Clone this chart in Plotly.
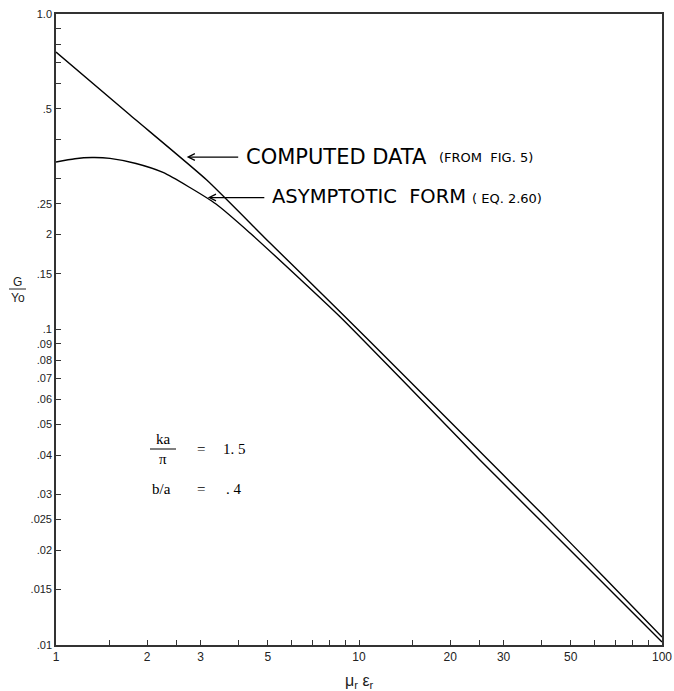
import numpy as np
import plotly.graph_objects as go

# Conductance G/Yo versus mu_r * eps_r (log-log)
computed_x = [1.0, 1.755, 3.144, 5.086, 8.657, 13.66, 22.67, 39.57, 64.86, 100.0]
computed_y = [0.758, 0.4785, 0.2978, 0.188, 0.1139, 0.0736, 0.04518, 0.02643, 0.01627, 0.0106]

asymptotic_x = [1.0, 1.155, 1.315, 1.507, 1.837, 2.255, 2.748, 3.374, 4.368, 6.387,
                8.657, 13.66, 25.07, 64.86, 100.0]
asymptotic_y = [0.3397, 0.3478, 0.3508, 0.3488, 0.3358, 0.3146, 0.2829, 0.2498, 0.2022, 0.1446,
                0.1098, 0.0703, 0.03859, 0.01550, 0.01022]

x_ticks = [1, 1.5, 2, 2.5, 3, 4, 5, 6, 7, 8, 9, 10, 15, 20, 25, 30, 40, 50, 60, 70, 80, 90, 100]
x_tick_text = ["1", "", "2", "", "3", "", "5", "", "", "", "", "10", "", "20", "", "30", "",
               "50", "", "", "", "", "100"]

y_ticks = [1.0, 0.9, 0.8, 0.7, 0.6, 0.5, 0.4, 0.3, 0.25, 0.2, 0.15, 0.1, 0.09, 0.08, 0.07,
           0.06, 0.05, 0.04, 0.03, 0.025, 0.02, 0.015, 0.01]
y_tick_text = ["1.0", "", "", "", "", ".5", "", "", ".25", "2", ".15", ".1", ".09", ".08",
               ".07", ".06", ".05", ".04", ".03", ".025", ".02", ".015", ".01"]

# arrow tips on the two curves
computed_tip = (2.70, 0.352)
asymptotic_tip = (3.17, 0.262)

W, H = 674, 691
L, R, T, B = 56, 12, 14, 46
pw, ph = W - L - R, H - T - B


def px(xp):
    return (xp - L) / pw


def py(yp):
    return (H - B - yp) / ph


fig = go.Figure()
fig.add_trace(go.Scatter(x=computed_x, y=computed_y, mode="lines",
                         line=dict(color="black", width=1.4, shape="spline", smoothing=0.5),
                         hoverinfo="skip"))
fig.add_trace(go.Scatter(x=asymptotic_x, y=asymptotic_y, mode="lines",
                         line=dict(color="black", width=1.4, shape="spline", smoothing=0.7),
                         hoverinfo="skip"))

xfont = dict(family="Liberation Sans, Arial, sans-serif", size=12, color="#222")
yfont = dict(family="Liberation Sans, Arial, sans-serif", size=11, color="#222")

fig.update_xaxes(type="log", range=[0, 2], tickvals=x_ticks, ticktext=x_tick_text,
                 ticks="inside", ticklen=5, tickwidth=1.3, tickcolor="#333",
                 showline=True, linecolor="#333", linewidth=1.6, mirror=True,
                 showgrid=False, zeroline=False, tickfont=xfont, automargin=False)
fig.update_yaxes(type="log", range=[-2, 0], tickvals=y_ticks, ticktext=y_tick_text,
                 ticks="inside", ticklen=5, tickwidth=1.3, tickcolor="#333",
                 showline=True, linecolor="#333", linewidth=1.6, mirror=True,
                 showgrid=False, zeroline=False, tickfont=yfont, automargin=False)

ann = []
# arrows
ann.append(dict(x=np.log10(computed_tip[0]), y=np.log10(computed_tip[1]), xref="x", yref="y",
                text="", showarrow=True, ax=53, ay=0, arrowhead=5, arrowsize=1.1,
                arrowwidth=1.2, arrowcolor="black"))
ann.append(dict(x=np.log10(asymptotic_tip[0]), y=np.log10(asymptotic_tip[1]), xref="x", yref="y",
                text="", showarrow=True, ax=58, ay=0, arrowhead=5, arrowsize=1.1,
                arrowwidth=1.2, arrowcolor="black"))

big = dict(family="DejaVu Sans, Liberation Sans, sans-serif", size=21, color="black")
big2 = dict(family="DejaVu Sans, Liberation Sans, sans-serif", size=19.5, color="black")
small = dict(family="DejaVu Sans, Liberation Sans, sans-serif", size=13, color="black")
ann.append(dict(x=px(244), y=py(157), xref="paper", yref="paper", text="COMPUTED DATA",
                showarrow=False, xanchor="left", yanchor="middle", font=big))
ann.append(dict(x=px(437), y=py(158), xref="paper", yref="paper", text="(FROM  FIG. 5)",
                showarrow=False, xanchor="left", yanchor="middle", font=small))
ann.append(dict(x=px(270), y=py(197), xref="paper", yref="paper", text="ASYMPTOTIC  FORM",
                showarrow=False, xanchor="left", yanchor="middle", font=big2))
ann.append(dict(x=px(470), y=py(198), xref="paper", yref="paper", text="( EQ. 2.60)",
                showarrow=False, xanchor="left", yanchor="middle", font=small))

# parameter block
serif = dict(family="Liberation Serif, DejaVu Serif, serif", size=15, color="black")
ann.append(dict(x=px(163), y=py(439), xref="paper", yref="paper", text="ka",
                showarrow=False, xanchor="center", yanchor="middle", font=serif))
ann.append(dict(x=px(163), y=py(459), xref="paper", yref="paper", text="π",
                showarrow=False, xanchor="center", yanchor="middle", font=serif))
ann.append(dict(x=px(201), y=py(449), xref="paper", yref="paper", text="=",
                showarrow=False, xanchor="center", yanchor="middle", font=serif))
ann.append(dict(x=px(221), y=py(449), xref="paper", yref="paper", text="1. 5",
                showarrow=False, xanchor="left", yanchor="middle", font=serif))
ann.append(dict(x=px(150), y=py(489), xref="paper", yref="paper", text="b/a",
                showarrow=False, xanchor="left", yanchor="middle", font=serif))
ann.append(dict(x=px(201), y=py(489), xref="paper", yref="paper", text="=",
                showarrow=False, xanchor="center", yanchor="middle", font=serif))
ann.append(dict(x=px(224), y=py(489), xref="paper", yref="paper", text=". 4",
                showarrow=False, xanchor="left", yanchor="middle", font=serif))

# y label G/Yo as a fraction
lab = dict(family="Liberation Sans, Arial, sans-serif", size=12, color="#222")
ann.append(dict(x=px(17), y=py(282), xref="paper", yref="paper", text="G",
                showarrow=False, xanchor="center", yanchor="middle", font=lab))
ann.append(dict(x=px(18), y=py(298), xref="paper", yref="paper", text="Yo",
                showarrow=False, xanchor="center", yanchor="middle", font=lab))
# x label
ann.append(dict(x=0.5, y=py(681), xref="paper", yref="paper",
                text="μ<sub>r</sub> ε<sub>r</sub>", showarrow=False,
                xanchor="center", yanchor="middle",
                font=dict(family="Liberation Sans, Arial, sans-serif", size=16, color="#222")))

shapes = [
    dict(type="line", xref="paper", yref="paper", x0=px(150), x1=px(176), y0=py(449), y1=py(449),
         line=dict(color="black", width=1)),
    dict(type="line", xref="paper", yref="paper", x0=px(9), x1=px(26), y0=py(289), y1=py(289),
         line=dict(color="#222", width=1)),
]

fig.update_layout(width=W, height=H, margin=dict(l=L, r=R, t=T, b=B, autoexpand=False),
                  paper_bgcolor="white", plot_bgcolor="white", showlegend=False,
                  annotations=ann, shapes=shapes)

fig.write_html("out.html")
